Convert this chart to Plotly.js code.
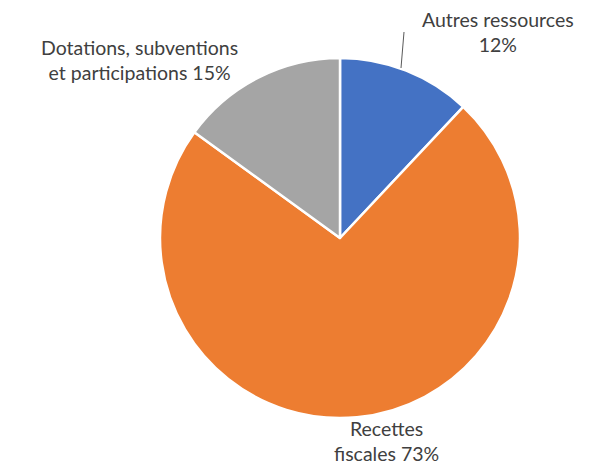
<!DOCTYPE html>
<html><head><meta charset="utf-8">
<script src="https://cdn.plot.ly/plotly-3.0.1.min.js"></script>
<style>html,body{margin:0;padding:0;background:#fff}#c{width:616px;height:465px}</style>
</head><body><div id="c"></div>
<script>
const labels = ["Autres ressources", "Recettes fiscales", "Dotations, subventions et participations"];
const values = [12, 73, 15];
const colors = ["#4472C4", "#ED7D31", "#A5A5A5"];
const labelText = ["Autres ressources<br>12%", "Recettes<br>fiscales 73%", "Dotations, subventions<br>et participations 15%"];

const font = {family: "Lato, 'Open Sans', sans-serif", size: 19.5, color: "#404040"};
Plotly.newPlot("c", [{
  type: "pie",
  labels: labels,
  values: values,
  sort: false,
  direction: "clockwise",
  rotation: 0,
  marker: {colors: colors, line: {color: "#fff", width: 2.5}},
  textinfo: "none",
  hoverinfo: "label+percent",
  domain: {x: [160/616, 520/616], y: [47/465, 407/465]}
}], {
  width: 616, height: 465,
  margin: {l: 0, r: 0, t: 0, b: 0},
  paper_bgcolor: "#fff",
  showlegend: false,
  annotations: [
    {xref: "paper", yref: "paper", x: 498/616, y: 1 - 32/465, text: labelText[0], showarrow: false, font: font, xanchor: "center", yanchor: "middle"},
    {xref: "paper", yref: "paper", x: 386/616, y: 1 - 441/465, text: labelText[1], showarrow: false, font: font, xanchor: "center", yanchor: "middle"},
    {xref: "paper", yref: "paper", x: 139/616, y: 1 - 60/465, text: labelText[2], showarrow: false, font: font, xanchor: "center", yanchor: "middle"}
  ],
  shapes: [
    {type: "line", xref: "paper", yref: "paper", x0: 404/616, y0: 1 - 32/465, x1: 401/616, y1: 1 - 68/465, line: {color: "#595959", width: 1}}
  ]
}, {displayModeBar: false, staticPlot: true});
</script></body></html>
